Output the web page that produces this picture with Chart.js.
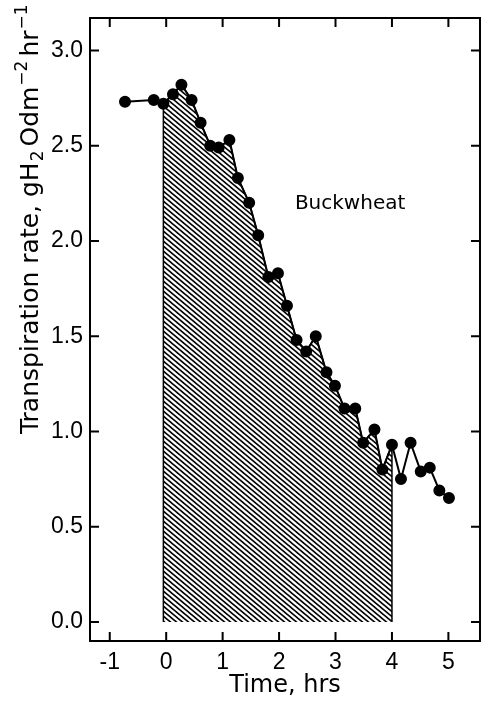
<!DOCTYPE html>
<html>
<head>
<meta charset="utf-8">
<script src="https://cdn.jsdelivr.net/npm/chart.js@4.4.1/dist/chart.umd.min.js"></script>
<style>
  html, body { margin: 0; padding: 0; background: #fff; }
  #wrap { width: 482px; height: 702px; }
  canvas { display: block; }
</style>
</head>
<body>
<div id="wrap"><canvas id="chart"></canvas></div>
<script>
// Buckwheat transpiration readings
const timeHrs = [-0.73, -0.22, -0.05, 0.12, 0.27, 0.45, 0.61, 0.78, 0.93, 1.12, 1.27,
  1.47, 1.63, 1.81, 1.98, 2.14, 2.31, 2.48, 2.65, 2.84, 2.99, 3.16, 3.35, 3.49,
  3.69, 3.83, 4.00, 4.16, 4.33, 4.51, 4.67, 4.84, 5.01];
const rate = [2.73, 2.74, 2.72, 2.77, 2.82, 2.74, 2.62, 2.50, 2.49, 2.53, 2.33,
  2.20, 2.03, 1.81, 1.83, 1.66, 1.48, 1.42, 1.50, 1.31, 1.24, 1.12, 1.12, 0.94,
  1.01, 0.80, 0.93, 0.75, 0.94, 0.79, 0.81, 0.69, 0.65];
const shadeFrom = -0.05;
const shadeTo = 4.0;
const xTicks = [-1, 0, 1, 2, 3, 4, 5];
const yTicks = [0, 0.5, 1.0, 1.5, 2.0, 2.5, 3.0];
const seriesLabel = 'Buckwheat';

const points = timeHrs.map((t, i) => ({ x: t, y: rate[i] }));
const shaded = points.filter(p => p.x >= shadeFrom && p.x <= shadeTo);
const shadePoly = [{ x: shaded[0].x, y: 0 }, ...shaded,
  { x: shaded[shaded.length - 1].x, y: 0 }];

// hatch pattern, lines running down to the right
function hatch() {
  const c = document.createElement('canvas');
  c.width = 6; c.height = 5;
  const g = c.getContext('2d');
  g.strokeStyle = '#000';
  g.lineWidth = 1.7;
  [-5, 0, 5].forEach(off => {
    g.beginPath();
    g.moveTo(-1, off - 5 / 6);
    g.lineTo(7, off + 35 / 6);
    g.stroke();
  });
  return g.createPattern(c, 'repeat');
}

const TICK = 9;
const framePlugin = {
  id: 'frame',
  afterDraw(chart) {
    const ctx = chart.ctx;
    const { left, right, top, bottom } = chart.chartArea;
    const xs = chart.scales.x, ys = chart.scales.y;
    ctx.save();
    ctx.strokeStyle = '#000';
    ctx.lineWidth = 2;
    ctx.strokeRect(left, top, right - left, bottom - top);
    ctx.beginPath();
    xs.ticks.forEach(t => {
      const px = xs.getPixelForValue(t.value);
      ctx.moveTo(px, bottom); ctx.lineTo(px, bottom - TICK);
      ctx.moveTo(px, top); ctx.lineTo(px, top + TICK);
    });
    ys.ticks.forEach(t => {
      const py = ys.getPixelForValue(t.value);
      ctx.moveTo(left, py); ctx.lineTo(left + TICK, py);
      ctx.moveTo(right, py); ctx.lineTo(right - TICK, py);
    });
    ctx.stroke();

    // series label
    ctx.fillStyle = '#000';
    ctx.font = '20px "DejaVu Sans"';
    ctx.textAlign = 'left';
    ctx.textBaseline = 'alphabetic';
    ctx.fillText(seriesLabel, xs.getPixelForValue(2.28), ys.getPixelForValue(2.17));

    // y axis title with sub/superscripts
    const parts = [
      ['Transpiration rate, gH', 0],
      ['2', 1],
      ['Odm', 0],
      ['\u22122', -1],
      ['hr', 0],
      ['\u22121', -1]
    ];
    ctx.translate(38, 434);
    ctx.rotate(-Math.PI / 2);
    let x = 0;
    parts.forEach(([txt, kind]) => {
      ctx.font = kind === 0 ? '25px "DejaVu Sans"' : '17px "DejaVu Sans"';
      const dy = kind === 1 ? 5 : kind === -1 ? -11 : 0;
      ctx.fillText(txt, x, dy);
      x += ctx.measureText(txt).width + (kind === 0 ? 1 : 4);
    });
    ctx.restore();
  }
};

Chart.defaults.color = '#000';

new Chart(document.getElementById('chart').getContext('2d'), {
  type: 'line',
  data: {
    datasets: [
      {
        data: points,
        borderColor: '#000',
        borderWidth: 2,
        pointRadius: 5,
        pointBackgroundColor: '#000',
        pointBorderColor: '#000',
        tension: 0,
        fill: false,
      },
      {
        data: shadePoly,
        borderColor: '#000',
        borderWidth: 1.5,
        pointRadius: 0,
        tension: 0,
        fill: 'origin',
        backgroundColor: hatch(),
      },
    ],
  },
  options: {
    responsive: true,
    maintainAspectRatio: false,
    animation: false,
    layout: { autoPadding: false, padding: { left: 0, top: 18, right: 2, bottom: 0 } },
    plugins: {
      legend: { display: false },
      tooltip: { enabled: false },
    },
    scales: {
      x: {
        type: 'linear',
        min: -1.35,
        max: 5.56,
        afterBuildTicks: s => { s.ticks = xTicks.map(v => ({ value: v })); },
        afterFit: s => { s.height = 61; s.paddingLeft = 0; s.paddingRight = 0; },
        grid: { display: false, drawTicks: false },
        border: { display: false },
        ticks: {
          padding: 8,
          font: { family: 'Liberation Sans', size: 23 },
          callback: v => String(v),
        },
        title: {
          display: true,
          text: 'Time, hrs',
          font: { family: 'DejaVu Sans', size: 24 },
          padding: { top: 0, bottom: 2 },
        },
      },
      y: {
        type: 'linear',
        min: -0.1,
        max: 3.17,
        afterBuildTicks: s => { s.ticks = yTicks.map(v => ({ value: v })); },
        afterFit: s => { s.width = 90; s.paddingTop = 0; s.paddingBottom = 0; },
        grid: { display: false, drawTicks: false },
        border: { display: false },
        ticks: {
          padding: 7,
          font: { family: 'Liberation Sans', size: 23 },
          callback: v => Number(v).toFixed(1),
        },
      },
    },
  },
  plugins: [framePlugin],
});
</script>
</body>
</html>
